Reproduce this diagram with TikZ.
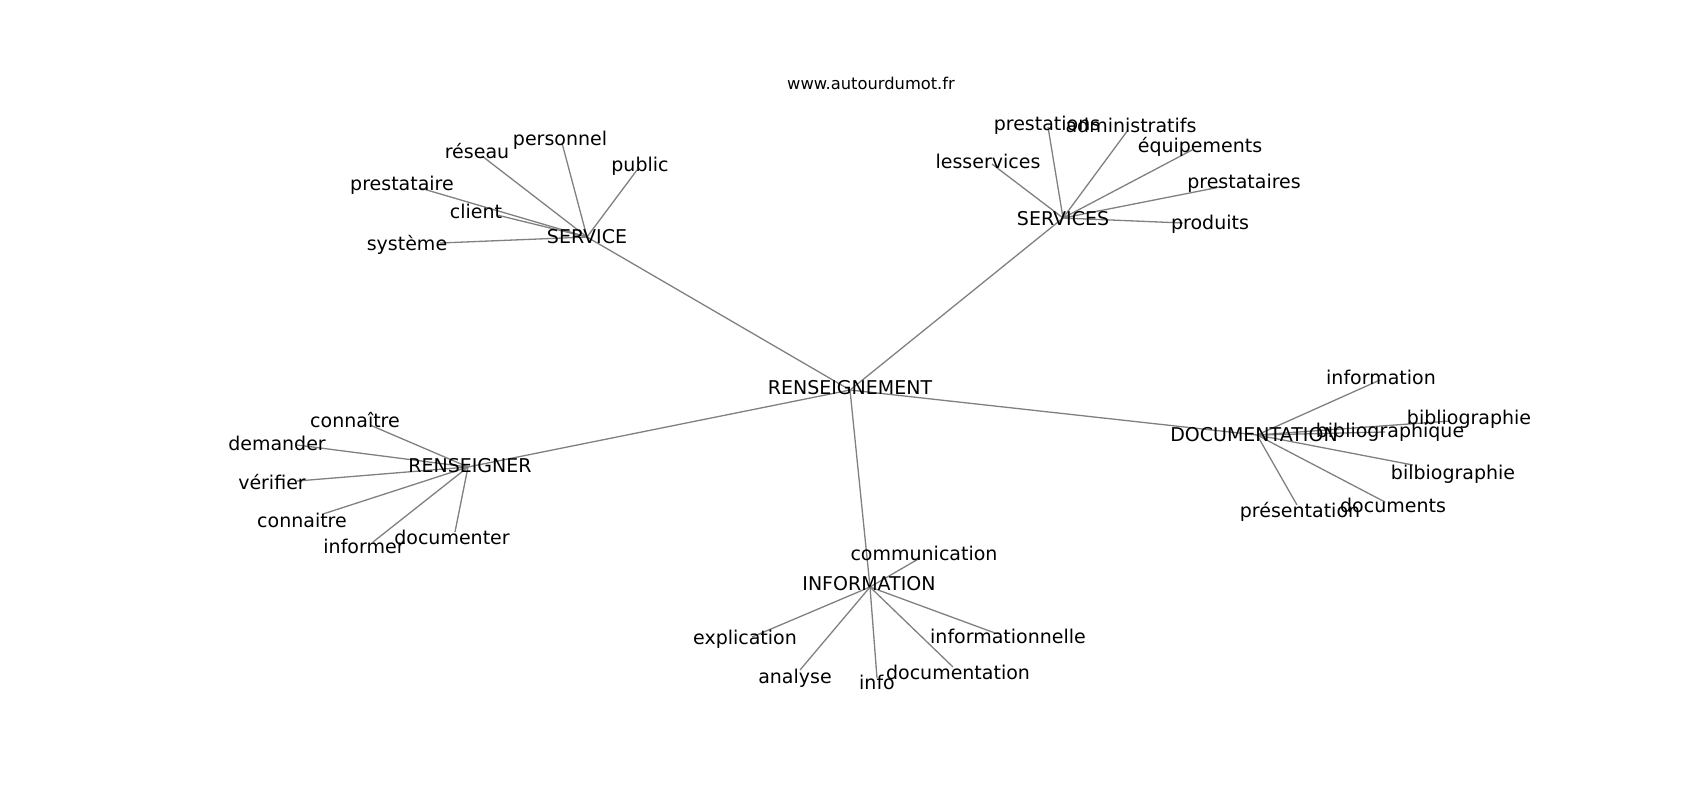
\documentclass[tikz,border=0pt]{standalone}
\usepackage{fontspec}
\setmainfont{DejaVu Sans}
\usepackage{tikz}
\definecolor{edgegray}{HTML}{808080}
\tikzset{
  word/.style={inner sep=0pt, text height=0.73em, text depth=0pt, font=\fontsize{9.5}{11}\selectfont},
  link/.style={edgegray, line width=0.65pt}
}

\begin{document}
\begin{tikzpicture}[x=0.5pt,y=-0.5pt]
\useasboundingbox (0,0) rectangle (1700,800);
\node [word, font=\fontsize{8.15}{10}\selectfont] (site) at (871,82.5) {www.autourdumot.fr};
\begin{scope}
\clip (212,96) rectangle (1530,712);
% hubs
\coordinate (renseignement-e) at (850,390);
\coordinate (service-e) at (587,237);
\coordinate (services-e) at (1063,218);
\coordinate (documentation-e) at (1257,435);
\coordinate (renseigner-e) at (468,467);
\coordinate (information-e) at (870,587);
% leaves
\coordinate (reseau-e) at (482,156);
\coordinate (personnel-e) at (562,143);
\coordinate (public-e) at (637,170);
\coordinate (prestataire-e) at (420,188);
\coordinate (client-e) at (497,215);
\coordinate (systeme-e) at (440,243);
\coordinate (prestations-e) at (1048,127);
\coordinate (administratifs-e) at (1128,130);
\coordinate (equipements-e) at (1192,150);
\coordinate (lesservices-e) at (992,164);
\coordinate (prestataires-e) at (1220,187);
\coordinate (produits-e) at (1183,223);
\coordinate (informationD-e) at (1380,380);
\coordinate (bibliographie-e) at (1450,421);
\coordinate (bibliographique-e) at (1385,432);
\coordinate (bilbiographie-e) at (1413,465);
\coordinate (documents-e) at (1385,502);
\coordinate (presentation-e) at (1297,505);
\coordinate (connaitreA-e) at (370,425);
\coordinate (demander-e) at (297,445);
\coordinate (verifier-e) at (297,481);
\coordinate (connaitreB-e) at (323,514);
\coordinate (informer-e) at (373,542);
\coordinate (documenter-e) at (455,532);
\coordinate (communication-e) at (920,558);
\coordinate (explication-e) at (752,637);
\coordinate (analyse-e) at (800,670);
\coordinate (info-e) at (877,678);
\coordinate (documentationI-e) at (953,667);
\coordinate (informationnelle-e) at (995,633);

\draw [link] (renseignement-e) -- (service-e);
\draw [link] (renseignement-e) -- (services-e);
\draw [link] (renseignement-e) -- (documentation-e);
\draw [link] (renseignement-e) -- (renseigner-e);
\draw [link] (renseignement-e) -- (information-e);
\draw [link] (service-e) -- (reseau-e);
\draw [link] (service-e) -- (personnel-e);
\draw [link] (service-e) -- (public-e);
\draw [link] (service-e) -- (prestataire-e);
\draw [link] (service-e) -- (client-e);
\draw [link] (service-e) -- (systeme-e);
\draw [link] (services-e) -- (prestations-e);
\draw [link] (services-e) -- (administratifs-e);
\draw [link] (services-e) -- (equipements-e);
\draw [link] (services-e) -- (lesservices-e);
\draw [link] (services-e) -- (prestataires-e);
\draw [link] (services-e) -- (produits-e);
\draw [link] (documentation-e) -- (informationD-e);
\draw [link] (documentation-e) -- (bibliographie-e);
\draw [link] (documentation-e) -- (bibliographique-e);
\draw [link] (documentation-e) -- (bilbiographie-e);
\draw [link] (documentation-e) -- (documents-e);
\draw [link] (documentation-e) -- (presentation-e);
\draw [link] (renseigner-e) -- (connaitreA-e);
\draw [link] (renseigner-e) -- (demander-e);
\draw [link] (renseigner-e) -- (verifier-e);
\draw [link] (renseigner-e) -- (connaitreB-e);
\draw [link] (renseigner-e) -- (informer-e);
\draw [link] (renseigner-e) -- (documenter-e);
\draw [link] (information-e) -- (communication-e);
\draw [link] (information-e) -- (explication-e);
\draw [link] (information-e) -- (analyse-e);
\draw [link] (information-e) -- (info-e);
\draw [link] (information-e) -- (documentationI-e);
\draw [link] (information-e) -- (informationnelle-e);

\node [word] (renseignement) at (850,387.5) {RENSEIGNEMENT};
\node [word] (service) at (587,236) {SERVICE};
\node [word] (services) at (1063,218) {SERVICES};
\node [word] (documentation) at (1254,434) {DOCUMENTATION};
\node [word] (renseigner) at (470,465) {RENSEIGNER};
\node [word] (information) at (869,583) {INFORMATION};

\node [word] (reseau) at (477,151) {réseau};
\node [word] (personnel) at (560,138) {personnel};
\node [word] (public) at (640,164) {public};
\node [word] (prestataire) at (402,183) {prestataire};
\node [word] (client) at (476,211) {client};
\node [word] (systeme) at (407,243) {système};

\node [word] (prestations) at (1047,123) {prestations};
\node [word] (administratifs) at (1131,125) {administratifs};
\node [word] (equipements) at (1200,145) {équipements};
\node [word] (lesservices) at (988,161) {lesservices};
\node [word] (prestataires) at (1244,181) {prestataires};
\node [word] (produits) at (1210,222) {produits};

\node [word] (informationD) at (1381,377) {information};
\node [word] (bibliographie) at (1469,417) {bibliographie};
\node [word] (bibliographique) at (1390,430) {bibliographique};
\node [word] (bilbiographie) at (1453,472) {bilbiographie};
\node [word] (documents) at (1393,505) {documents};
\node [word] (presentation) at (1300,510) {présentation};

\node [word] (connaitreA) at (355,420) {connaître};
\node [word] (demander) at (277,443) {demander};
\node [word] (verifier) at (272,482) {vérifier};
\node [word] (connaitreB) at (302,520) {connaitre};
\node [word] (informer) at (364,546) {informer};
\node [word] (documenter) at (452,537) {documenter};

\node [word] (communication) at (924,553) {communication};
\node [word] (explication) at (745,637) {explication};
\node [word] (analyse) at (795,676) {analyse};
\node [word] (info) at (877,682) {info};
\node [word] (documentationI) at (958,672) {documentation};
\node [word] (informationnelle) at (1008,636) {informationnelle};
\end{scope}
\end{tikzpicture}
\end{document}
